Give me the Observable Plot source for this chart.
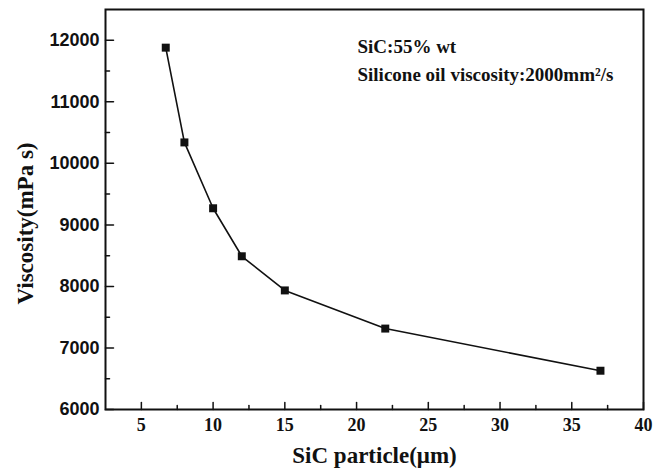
<!DOCTYPE html>
<html>
<head>
<meta charset="utf-8">
<script src="https://cdn.jsdelivr.net/npm/d3@7"></script>
<script src="https://cdn.jsdelivr.net/npm/@observablehq/plot@0.6"></script>
<style>
  html, body { margin: 0; padding: 0; background: #fff; }
  #chart svg { display: block; }
</style>
</head>
<body>
<div id="chart"></div>
<script>
// Data
const particleSize = [6.7, 8, 10, 12, 15, 22, 37];        // SiC particle (µm)
const viscosity = [11880, 10340, 9270, 8490, 7935, 7315, 6630]; // mPa s

const xTicksMajor = [5, 10, 15, 20, 25, 30, 35, 40];
const xTicksMinor = [7.5, 12.5, 17.5, 22.5, 27.5, 32.5, 37.5];
const yTicksMajor = [6000, 7000, 8000, 9000, 10000, 11000, 12000];
const yTicksMinor = [6500, 7500, 8500, 9500, 10500, 11500];

const xDomain = [2.5, 40];
const yDomain = [6000, 12500];

const xTitle = "SiC particle(\u03bcm)";
const yTitle = "Viscosity(mPa s)";
const note1 = "SiC:55% wt";
const note2 = "Silicone oil viscosity:2000mm\u00b2/s";

const data = particleSize.map((x, i) => ({x, y: viscosity[i]}));

const serif = "'Liberation Serif', 'Times New Roman', serif";
const sans = "'Liberation Sans', Arial, sans-serif";

const tickShape = {draw(ctx, l) { ctx.moveTo(0, 0); ctx.lineTo(0, -l); }};

const chart = Plot.plot({
  width: 667,
  height: 474,
  marginLeft: 105,
  marginRight: 24,
  marginTop: 9,
  marginBottom: 65,
  style: {background: "#fff", color: "#000", fontFamily: serif},
  x: {domain: xDomain, axis: null},
  y: {domain: yDomain, axis: null},
  marks: [
    Plot.frame({stroke: "#111", strokeWidth: 2}),
    // inward ticks on bottom axis
    Plot.vector(xTicksMajor, {x: d => d, y: yDomain[0], length: 7, anchor: "start", rotate: 0, shape: tickShape, stroke: "#111", strokeWidth: 1.5}),
    Plot.vector(xTicksMinor, {x: d => d, y: yDomain[0], length: 4, anchor: "start", rotate: 0, shape: tickShape, stroke: "#111", strokeWidth: 1.5}),
    // inward ticks on left axis
    Plot.vector(yTicksMajor, {y: d => d, x: xDomain[0], length: 8, anchor: "start", rotate: 90, shape: tickShape, stroke: "#111", strokeWidth: 1.5}),
    Plot.vector(yTicksMinor, {y: d => d, x: xDomain[0], length: 4, anchor: "start", rotate: 90, shape: tickShape, stroke: "#111", strokeWidth: 1.5}),
    // tick labels
    Plot.text(xTicksMajor, {x: d => d, y: yDomain[0], text: d => String(d), dy: 9, lineAnchor: "top", textAnchor: "middle", fontFamily: serif, fontWeight: "bold", fontSize: 18, fill: "#111"}),
    Plot.text(yTicksMajor, {y: d => d, x: xDomain[0], text: d => String(d), dx: -6, lineAnchor: "middle", textAnchor: "end", fontFamily: sans, fontWeight: "bold", fontSize: 18, fill: "#111"}),
    Plot.line(data, {x: "x", y: "y", stroke: "#111", strokeWidth: 1.6}),
    Plot.dot(data, {x: "x", y: "y", symbol: "square", r: 4.5, fill: "#111", stroke: "none"}),
    Plot.text([xTitle], {frameAnchor: "bottom", dy: 46, textAnchor: "middle", lineAnchor: "middle", fontFamily: serif, fontWeight: "bold", fontSize: 23, fill: "#111"}),
    Plot.text([yTitle], {frameAnchor: "left", dx: -80, dy: 14, rotate: -90, textAnchor: "middle", lineAnchor: "middle", fontFamily: serif, fontWeight: "bold", fontSize: 23, fill: "#111"}),
    Plot.text([note1], {frameAnchor: "top-left", dx: 252, dy: 37, textAnchor: "start", lineAnchor: "middle", fontFamily: serif, fontWeight: "bold", fontSize: 19, fill: "#111"}),
    Plot.text([note2], {frameAnchor: "top-left", dx: 252, dy: 65, textAnchor: "start", lineAnchor: "middle", fontFamily: serif, fontWeight: "bold", fontSize: 19, fill: "#111"})
  ]
});

document.getElementById("chart").appendChild(chart);
</script>
</body>
</html>
